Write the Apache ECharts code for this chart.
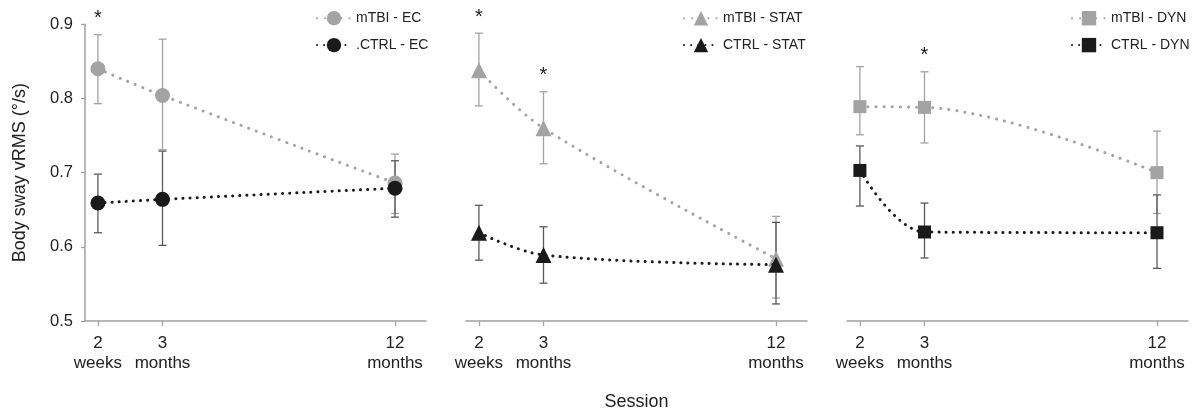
<!DOCTYPE html>
<html><head><meta charset="utf-8">
<script src="https://cdn.jsdelivr.net/npm/echarts@6/dist/echarts.min.js"></script>
<style>html,body{margin:0;padding:0;background:#fff}#c{width:1193px;height:411px}</style>
</head><body><div id="c"></div>
<script>
// Sessions (months after injury) and their tick labels
const sessions = [0.5, 3, 12];
const sessionLabels = ['2\nweeks', '3\nmonths', '12\nmonths'];
const yTicks = [0.5, 0.6, 0.7, 0.8, 0.9];

// EC condition
const mtbiEC = [0.840, 0.804, 0.686];
const mtbiEClow = [0.793, 0.731, 0.645];
const mtbiEChigh = [0.886, 0.880, 0.725];
const mtbiECsig = [1, 0, 0];
const ctrlEC = [0.659, 0.664, 0.679];
const ctrlEClow = [0.619, 0.602, 0.640];
const ctrlEChigh = [0.698, 0.729, 0.716];

// STAT condition
const mtbiSTAT = [0.838, 0.760, 0.584];
const mtbiSTATlow = [0.790, 0.712, 0.531];
const mtbiSTAThigh = [0.888, 0.809, 0.641];
const mtbiSTATsig = [1, 1, 0];
const ctrlSTAT = [0.619, 0.589, 0.576];
const ctrlSTATlow = [0.582, 0.551, 0.523];
const ctrlSTAThigh = [0.656, 0.627, 0.633];

// DYN condition
const mtbiDYN = [0.789, 0.788, 0.700];
const mtbiDYNlow = [0.751, 0.740, 0.645];
const mtbiDYNhigh = [0.843, 0.836, 0.756];
const mtbiDYNsig = [0, 1, 0];
const ctrlDYN = [0.703, 0.620, 0.619];
const ctrlDYNlow = [0.655, 0.585, 0.571];
const ctrlDYNhigh = [0.736, 0.659, 0.670];
const noSig = [0, 0, 0];

const panelDefs = [
  {mName: 'mTBI - EC', cName: '.CTRL - EC', symbol: 'circle', size: 15,
   m: mtbiEC, mLo: mtbiEClow, mHi: mtbiEChigh, mSig: mtbiECsig,
   c: ctrlEC, cLo: ctrlEClow, cHi: ctrlEChigh},
  {mName: 'mTBI - STAT', cName: 'CTRL - STAT', symbol: 'triangle', size: 16,
   m: mtbiSTAT, mLo: mtbiSTATlow, mHi: mtbiSTAThigh, mSig: mtbiSTATsig,
   c: ctrlSTAT, cLo: ctrlSTATlow, cHi: ctrlSTAThigh},
  {mName: 'mTBI - DYN', cName: 'CTRL - DYN', symbol: 'rect', size: 13,
   m: mtbiDYN, mLo: mtbiDYNlow, mHi: mtbiDYNhigh, mSig: mtbiDYNsig,
   c: ctrlDYN, cLo: ctrlDYNlow, cHi: ctrlDYNhigh}
];

const GRAY = '#a3a3a3', BLACK = '#1a1a1a', AXIS = '#a0a0a0';
const FONT = '"Liberation Sans", Arial, sans-serif';
const gridLefts = [85, 466, 847];
const legendLefts = [311, 678, 1066];

function errRender(color) {
  return function (params, api) {
    const x = api.value(0), lo = api.value(1), hi = api.value(2), sig = api.value(3);
    const a = api.coord([x, lo]), b = api.coord([x, hi]);
    const w = 4;
    const st = {stroke: color, lineWidth: 1.3};
    const ch = [
      {type: 'line', shape: {x1: a[0], y1: a[1], x2: b[0], y2: b[1]}, style: st},
      {type: 'line', shape: {x1: a[0] - w, y1: a[1], x2: a[0] + w, y2: a[1]}, style: st},
      {type: 'line', shape: {x1: b[0] - w, y1: b[1], x2: b[0] + w, y2: b[1]}, style: st}
    ];
    if (sig) ch.push({type: 'text', x: b[0], y: b[1] - 16,
      style: {text: '*', fill: '#222', font: '20px ' + FONT, align: 'center', verticalAlign: 'middle'}});
    return {type: 'group', children: ch};
  };
}

const grids = [], xAxes = [], yAxes = [], series = [], legends = [];
panelDefs.forEach((p, i) => {
  grids.push({left: gridLefts[i], width: 341, top: 24.3, height: 296.7, outerBoundsMode: 'none', containLabel: false});
  xAxes.push({
    type: 'value', gridIndex: i, min: 0, max: 13.2,
    name: i === 1 ? 'Session' : '', nameLocation: 'middle', nameGap: 72,
    nameTextStyle: {fontSize: 18, color: '#222', fontFamily: FONT},
    axisLine: {show: true, onZero: false, lineStyle: {color: AXIS, width: 1.5}},
    axisTick: {show: true, length: 5, customValues: sessions, lineStyle: {color: AXIS, width: 1.3}},
    splitLine: {show: false},
    axisLabel: {customValues: sessions, margin: 12, fontSize: 17, lineHeight: 20, color: '#222', fontFamily: FONT,
      formatter: v => { const k = sessions.indexOf(v); return k >= 0 ? sessionLabels[k] : ''; }}
  });
  yAxes.push({
    type: 'value', gridIndex: i, min: yTicks[0], max: yTicks[yTicks.length - 1], interval: 0.1,
    show: i === 0,
    name: i === 0 ? 'Body sway vRMS (°/s)' : '', nameLocation: 'middle', nameGap: 56,
    nameTextStyle: {fontSize: 18, color: '#222', fontFamily: FONT},
    axisLine: {show: true, onZero: false, lineStyle: {color: AXIS, width: 1.5}},
    axisTick: {show: true, length: 4, lineStyle: {color: AXIS, width: 1.3}},
    splitLine: {show: false},
    axisLabel: {margin: 12, fontSize: 16.5, color: '#222', fontFamily: FONT, formatter: v => v.toFixed(1)}
  });
  series.push({type: 'custom', xAxisIndex: i, yAxisIndex: i, z: 1, silent: true,
    renderItem: errRender(GRAY), encode: {x: 0, y: [1, 2]},
    data: sessions.map((s, k) => [s, p.mLo[k], p.mHi[k], p.mSig[k]])});
  series.push({type: 'custom', xAxisIndex: i, yAxisIndex: i, z: 1, silent: true,
    renderItem: errRender('#5a5a5a'), encode: {x: 0, y: [1, 2]},
    data: sessions.map((s, k) => [s, p.cLo[k], p.cHi[k], noSig[k]])});
  series.push({type: 'line', name: p.mName, xAxisIndex: i, yAxisIndex: i, z: 3,
    smooth: 0.35, symbol: p.symbol, symbolSize: p.size, showAllSymbol: true,
    itemStyle: {color: GRAY},
    lineStyle: {color: GRAY, width: 3, type: [0.1, 8], cap: 'round'},
    data: sessions.map((s, k) => [s, p.m[k]])});
  series.push({type: 'line', name: p.cName, xAxisIndex: i, yAxisIndex: i, z: 4,
    smooth: 0.35, symbol: p.symbol, symbolSize: p.size, showAllSymbol: true,
    itemStyle: {color: BLACK},
    lineStyle: {color: BLACK, width: 3, type: [0.1, 7], cap: 'round'},
    data: sessions.map((s, k) => [s, p.c[k]])});
  legends.push({data: [p.mName, p.cName], left: legendLefts[i], top: 6, orient: 'vertical',
    itemWidth: 34, itemHeight: 18, itemGap: 12.5, selectedMode: false,
    textStyle: {fontSize: 14, color: '#222', fontFamily: FONT}});
});

const chart = echarts.init(document.getElementById('c'), null, {renderer: 'canvas'});
chart.setOption({animation: false, backgroundColor: '#fff',
  grid: grids, xAxis: xAxes, yAxis: yAxes, legend: legends, series: series});
</script></body></html>
